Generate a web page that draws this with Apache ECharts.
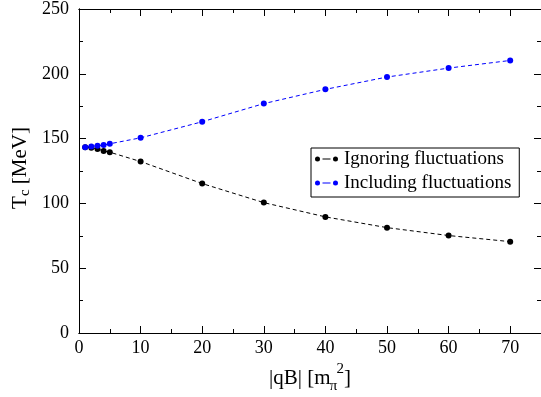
<!DOCTYPE html>
<html>
<head>
<meta charset="utf-8">
<script src="https://cdn.jsdelivr.net/npm/echarts@6/dist/echarts.min.js"></script>
<style>
  html, body { margin: 0; padding: 0; background: #fff; }
  #chart { width: 541px; height: 397px; }
</style>
</head>
<body>
<div id="chart"></div>
<script>
// |qB| in units of m_pi^2
const qB = [1, 2, 3, 4, 5, 10, 20, 30, 40, 50, 60, 70];
// critical temperature T_c [MeV]
const tcIgnoring = [143.4, 143, 142, 140.5, 139.5, 132.3, 115.3, 100.6, 89.6, 81.3, 75.2, 70.5];
const tcIncluding = [143.4, 144, 144.5, 145, 146, 150.6, 163, 177, 188, 197.5, 204.4, 210.3];
const seriesNames = ['Ignoring fluctuations', 'Including fluctuations'];
const seriesColors = ['#000000', '#0000ff'];

const FONT = 'Liberation Serif';
const pairs = (xs, ys) => xs.map((x, i) => [x, ys[i]]);

const chart = echarts.init(document.getElementById('chart'), null, { renderer: 'canvas' });

// frame axes: majors carry labels, minors only carry short inward ticks
function xAx(pos, interval, len, labels) {
  return {
    type: 'value', position: pos, min: 0, max: 75, interval: interval,
    axisLine: { show: true, onZero: false, lineStyle: { color: '#000', width: 1 } },
    axisTick: { show: true, inside: true, length: len, lineStyle: { color: '#000', width: 1 } },
    axisLabel: labels ? { show: true, showMaxLabel: false, margin: 6, color: '#000', fontFamily: FONT, fontSize: 18 } : { show: false },
    splitLine: { show: false }
  };
}
function yAx(pos, interval, len, labels) {
  return {
    type: 'value', position: pos, min: 0, max: 250, interval: interval,
    axisLine: { show: true, onZero: false, lineStyle: { color: '#000', width: 1 } },
    axisTick: { show: true, inside: true, length: len, lineStyle: { color: '#000', width: 1 } },
    axisLabel: labels ? { show: true, margin: 10, color: '#000', fontFamily: FONT, fontSize: 18 } : { show: false },
    splitLine: { show: false }
  };
}

const legendIcon = 'path://M0.5,3a2.5,2.5 0 1,0 5,0a2.5,2.5 0 1,0 -5,0Z' +
  'M8,2.4h8v1.2h-8Z' +
  'M18.5,3a2.5,2.5 0 1,0 5,0a2.5,2.5 0 1,0 -5,0Z';

const option = {
  animation: false,
  backgroundColor: '#fff',
  grid: { left: 79, right: -2, top: 9, bottom: 64, containLabel: false },
  xAxis: [
    xAx('bottom', 10, 7, true),
    xAx('bottom', 5, 4, false),
    xAx('top', 10, 7, false),
    xAx('top', 5, 4, false)
  ],
  yAxis: [
    yAx('left', 50, 7, true),
    yAx('left', 25, 4, false),
    yAx('right', 50, 7, false),
    yAx('right', 25, 4, false)
  ],
  legend: {
    orient: 'vertical',
    left: 311, top: 148,
    padding: [0, 8, 3, 4],
    itemGap: 2,
    itemWidth: 25, itemHeight: 5,
    icon: legendIcon,
    borderColor: '#000', borderWidth: 1, borderRadius: 0,
    backgroundColor: '#fff',
    itemStyle: { borderWidth: 0 },
    lineStyle: { width: 0 },
    textStyle: { color: '#000', fontFamily: FONT, fontSize: 19, lineHeight: 22 },
    data: seriesNames
  },
  series: [0, 1].map(k => ({
    name: seriesNames[k],
    type: 'line',
    xAxisIndex: 0, yAxisIndex: 0,
    data: pairs(qB, k === 0 ? tcIgnoring : tcIncluding),
    symbol: 'circle', symbolSize: 6,
    itemStyle: { color: seriesColors[k] },
    lineStyle: { color: seriesColors[k], width: 1, type: [4, 3] }
  })),
  graphic: [
    {
      type: 'text', x: 310, y: 378,
      style: {
        text: '|qB| [m{s|π}{p|2}]',
        fontFamily: FONT, fontSize: 21, lineHeight: 32,
        align: 'center', verticalAlign: 'middle', fill: '#000',
        rich: {
          s: { fontFamily: FONT, fontSize: 15, lineHeight: 12, verticalAlign: 'bottom', width: 6, fill: '#000' },
          p: { fontFamily: FONT, fontSize: 15, lineHeight: 15, verticalAlign: 'top', fill: '#000' }
        }
      }
    },
    {
      type: 'text', x: 20, y: 168, rotation: Math.PI / 2,
      style: {
        text: 'T{s|c} [MeV]',
        fontFamily: FONT, fontSize: 21, lineHeight: 26,
        align: 'center', verticalAlign: 'middle', fill: '#000',
        rich: {
          s: { fontFamily: FONT, fontSize: 15, lineHeight: 15, verticalAlign: 'bottom', fill: '#000' }
        }
      }
    }
  ]
};

chart.setOption(option);
</script>
</body>
</html>
